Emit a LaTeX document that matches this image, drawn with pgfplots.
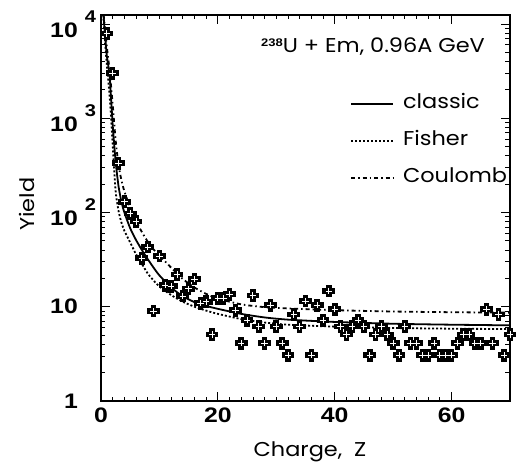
\documentclass[border=0pt]{standalone}
\usepackage{fontspec}
\usepackage{pgfplots}
\usepackage{pgfplotstable}
\pgfplotsset{compat=1.18}
\setmainfont{Poppins}
\newfontfamily\tickfont[FakeStretch=1.18]{Liberation Sans}
\newfontfamily\labfont[FakeStretch=1.12]{Poppins}
\newcommand\supx[1]{\rlap{\hspace{7pt}\raisebox{15pt}{\fontsize{17}{17}\selectfont\bfseries #1}}}

\pgfplotstableread{
Z Y
1 7900
2 3000
3 333
4 130
5 98
6 80
7 32.7
8 43
9 9.0
10 34.5
11 16.9
12 16.5
13 21.9
14 13
15 15.5
16 19.7
17 10.9
18 11.3
19 5.1
20 12.3
21 12.3
22 13.6
23 9.2
24 4.1
25 7.2
26 13.1
27 6.2
28 4.1
29 10.4
30 6.2
31 4.1
32 3.06
33 8.3
34 6.2
35 11.5
36 3.06
37 10.4
38 7.2
39 14.7
40 9.4
41 6.2
42 5.1
43 6.2
44 7.2
45 6.2
46 3.06
47 5.1
48 6.2
49 5.1
50 4.1
51 3.06
52 6.2
53 4.1
54 4.1
55 3.06
56 3.06
57 4.1
58 3.06
59 3.06
60 3.06
61 4.1
62 5.1
63 5.1
64 4.1
65 4.1
66 9.4
67 4.1
68 8.3
69 3.06
70 5.1
}\yielddata

\pgfplotstableread{
Z Y
0.42 12500
0.7 7500
1.0 4600
1.5 2700
2.0 850
2.5 350
3.0 190
3.5 130
4 100
5 68
6 51
7 40
8 32
9 26
10 21.5
12 16
14 12.9
16 11.2
18 10.2
20 9.5
24 8.4
28 7.7
32 7.3
40 6.9
50 6.6
60 6.45
70 6.35
}\classic

\pgfplotstableread{
Z Y
0.4 12500
0.7 6300
1.0 3700
1.5 1650
2.0 530
2.5 170
3.0 104
3.5 78
4 64
5 48
6 36
7 28.5
8 22.5
9 19
10 16.4
12 13.3
14 11.3
16 10
18 9.1
20 8.4
24 7.4
28 6.8
32 6.45
40 6.15
50 5.95
60 5.85
70 5.8
}\fisher

\pgfplotstableread{
Z Y
0.45 12500
0.8 7500
1.0 5700
1.5 3100
2.0 1400
2.5 590
3.0 320
3.5 220
4 168
5 112
6 81
7 62
8 49
9 40.5
10 35
12 26
14 19.7
16 16
18 13.7
20 12.2
24 10.6
28 9.9
32 9.6
40 9.2
50 8.9
60 8.75
70 8.65
}\coulomb

\begin{document}
\begin{tikzpicture}
\path (-101pt,-62pt) rectangle (416pt,401pt);
\begin{axis}[
  at={(0,0)}, anchor=south west,
  scale only axis, width=409pt, height=386pt,
  xmin=0, xmax=70, ymode=log, ymin=1, ymax=12450,
  xtick={0,20,40,60}, minor x tick num=9,
  xticklabels={0,20,40,60},
  ytick={1,10,100,1000,10000},
  yticklabels={1,10,10\supx{2},10\supx{3},10\supx{4}},
  /pgf/number format/assume math mode=true,
  tick align=inside,
  major tick length=9pt, minor tick length=4.5pt,
  axis line style={line width=1.6pt},
  every tick/.style={black, line width=0.8pt},
  xticklabel style={font=\fontsize{21}{21}\tickfont\bfseries, inner sep=0pt, anchor=north, yshift=-7pt},
  yticklabel style={font=\fontsize{21}{21}\tickfont\bfseries, inner sep=0pt, anchor=east, xshift=-23pt},
  xlabel={Charge,\ \ Z},
  ylabel={Yield},
  xlabel style={font=\fontsize{20}{20}\labfont, at={(axis description cs:0.511,-0.145)}, anchor=base, inner sep=0pt},
  ylabel style={font=\fontsize{20}{20}\labfont, at={(axis description cs:-0.181,0.51)}, anchor=center, inner sep=0pt},
  legend style={at={(axis description cs:0.609,0.793)}, anchor=north west, draw=none, fill=none,
    font=\fontsize{20}{20}\labfont, row sep=20pt, column sep=9pt, inner sep=0pt,
    nodes={inner sep=0pt, text height=13pt, text depth=4pt}},
  legend cell align=left,
  legend image code/.code={\draw[#1] (0pt,0pt) -- (42pt,0pt);},
  clip=true,
]
\addplot[only marks, black, mark=+, mark size=3.6pt, mark options={line width=5.6pt, line cap=rect}, forget plot] table[x=Z,y=Y] {\yielddata};
\addplot[only marks, white, mark=+, mark size=3.2pt, mark options={line width=0.9pt}, forget plot] table[x=Z,y=Y] {\yielddata};
\addplot[black, line width=1.8pt, smooth, tension=0.4] table[x=Z,y=Y] {\classic};
\addlegendentry{classic}
\addplot[black, line width=1.8pt, dash pattern=on 2pt off 2pt, smooth, tension=0.4] table[x=Z,y=Y] {\fisher};
\addlegendentry{Fisher}
\addplot[black, line width=1.8pt, dash pattern=on 4pt off 3pt on 1.5pt off 3pt, smooth, tension=0.4] table[x=Z,y=Y] {\coulomb};
\addlegendentry{Coulomb}
\node[anchor=base east, inner sep=0pt, font=\fontsize{20}{20}\labfont] at (axis description cs:0.939,0.902)
  {\raisebox{6pt}{\fontsize{11}{11}\tickfont\bfseries 238}U + Em, 0.96A GeV};
\end{axis}
\end{tikzpicture}
\end{document}
